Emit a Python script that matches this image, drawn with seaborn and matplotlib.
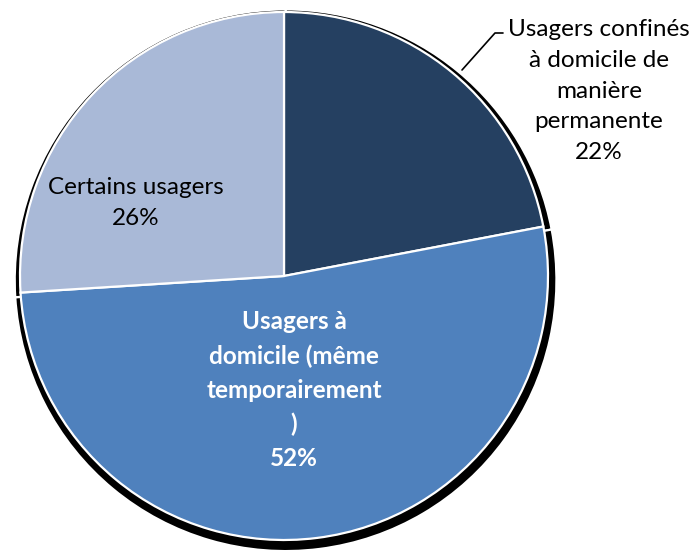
import matplotlib
matplotlib.use("Agg")
import matplotlib.pyplot as plt
import seaborn as sns

sns.set_theme(style="white")
plt.rcParams["font.family"] = ["Lato", "DejaVu Sans"]

# Shares of users, starting at 12 o'clock and going clockwise
categories = [
    "Usagers confinés\nà domicile de\nmanière\npermanente",
    "Usagers à\ndomicile (même\ntemporairement\n)",
    "Certains usagers",
]
shares = [22, 52, 26]
colors = ["#254061", "#4F81BD", "#A9B9D7"]

fig = plt.figure(figsize=(6.94, 5.52), dpi=100)
ax = fig.add_axes([0, 0, 1, 1])

R = 264.0  # pixels per data unit (pie radius)
cx, cy = 284.0, 276.0


def px(x, y):
    return (x - cx) / R, (cy - y) / R


# dark rim drawn as a slightly larger, shifted copy of each slice
ax.pie(shares, startangle=90, counterclock=False, radius=1.026,
       center=(0.006, -0.016), colors=["black"] * 3,
       wedgeprops=dict(edgecolor="white", linewidth=1.6))
wedges, _ = ax.pie(shares, startangle=90, counterclock=False, radius=1.0,
                   colors=colors,
                   wedgeprops=dict(edgecolor="white", linewidth=1.6))

ax.set_xlim(-cx / R, (694 - cx) / R)
ax.set_ylim(-(552 - cy) / R, cy / R)
ax.set_aspect("auto")
ax.axis("off")

fs = 17.5
ls = 1.56
# outside label for the first slice, with its leader line
x0, y0 = px(599, 91)
ax.text(x0, y0, f"{categories[0]}\n{shares[0]}%", ha="center", va="center",
        fontsize=fs, color="black", linespacing=ls)
lx = [px(462, 70)[0], px(495, 33)[0], px(503, 33)[0]]
ly = [px(462, 70)[1], px(495, 33)[1], px(503, 33)[1]]
ax.plot(lx, ly, color="black", linewidth=1.2)

x1, y1 = px(294, 390)
ax.text(x1, y1, f"{categories[1]}\n{shares[1]}%", ha="center", va="center",
        fontsize=fs, color="white", fontweight="bold", linespacing=ls)

x2, y2 = px(136, 203)
ax.text(x2, y2, f"{categories[2]}\n{shares[2]}%", ha="center", va="center",
        fontsize=fs, color="black", linespacing=ls)

fig.savefig("out.png", dpi=100, facecolor="white")
